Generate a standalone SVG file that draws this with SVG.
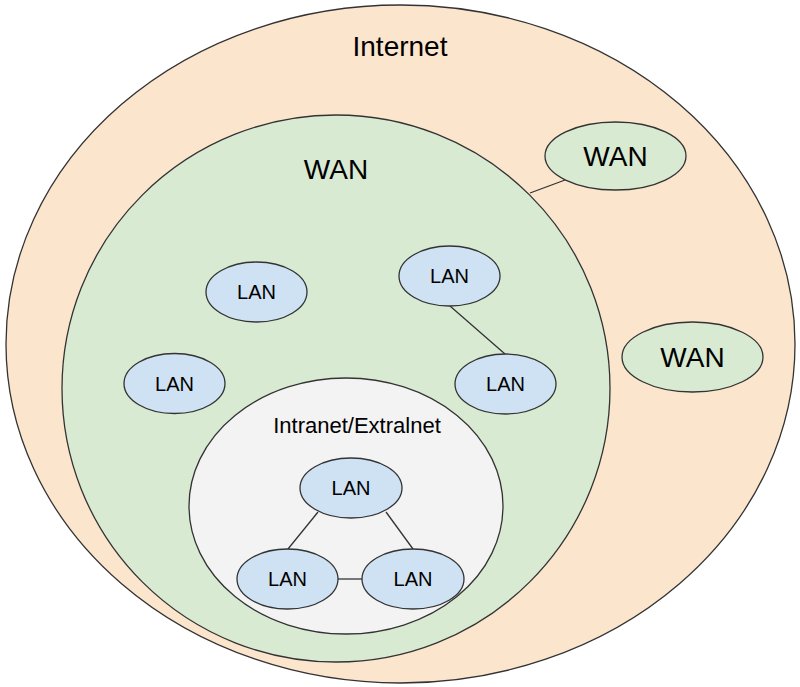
<svg xmlns="http://www.w3.org/2000/svg" width="800" height="687" viewBox="0 0 800 687">
<style>
.s{stroke:#333;stroke-width:1.3}
.inet{fill:#fce5cd}
.wan{fill:#d9ead3}
.lan{fill:#cfe2f3}
.intra{fill:#f3f3f3}
text{font-family:"Liberation Sans",Arial,sans-serif;fill:#000;text-anchor:middle}
.big{font-size:28px}
.lt{font-size:20px}
.c{stroke:#333;stroke-width:1.3;fill:none}
</style>
<rect width="800" height="687" fill="#fff"/>
<g id="internet">
<ellipse class="s inet" cx="400.5" cy="344" rx="394.5" ry="339"/>
<text class="big" x="400" y="56">Internet</text>
</g>
<g id="wan-main">
<ellipse class="s wan" cx="336" cy="388.5" rx="274" ry="273.5"/>
<text class="big" x="336" y="179">WAN</text>
</g>
<g id="wan-top">
<ellipse class="s wan" cx="615.5" cy="156" rx="70.5" ry="34"/>
<text class="big" x="615.5" y="166">WAN</text>
</g>
<g id="wan-right">
<ellipse class="s wan" cx="692.5" cy="357" rx="70.5" ry="35"/>
<text class="big" x="692.5" y="367">WAN</text>
</g>
<g id="intranet">
<ellipse class="s intra" cx="346" cy="506" rx="157" ry="128"/>
<text x="357" y="433" style="font-size:22px">Intranet/Extralnet</text>
</g>
<g id="connectors">
<line class="c" x1="530" y1="193" x2="565" y2="180"/>
<line class="c" x1="450" y1="306" x2="505" y2="354"/>
<line class="c" x1="318" y1="512" x2="288" y2="549"/>
<line class="c" x1="386" y1="512" x2="413" y2="549"/>
<line class="c" x1="338" y1="579" x2="362" y2="579"/>
</g>
<g id="lan1"><ellipse class="s lan" cx="256.5" cy="292" rx="50.5" ry="30"/><text class="lt" x="256.5" y="299">LAN</text></g>
<g id="lan2"><ellipse class="s lan" cx="449.5" cy="276" rx="50.5" ry="30"/><text class="lt" x="449.5" y="283">LAN</text></g>
<g id="lan3"><ellipse class="s lan" cx="174.5" cy="383.5" rx="50.5" ry="30"/><text class="lt" x="174.5" y="390.5">LAN</text></g>
<g id="lan4"><ellipse class="s lan" cx="505.5" cy="384" rx="50.5" ry="30"/><text class="lt" x="505.5" y="391">LAN</text></g>
<g id="lan5"><ellipse class="s lan" cx="351" cy="488" rx="51" ry="30"/><text class="lt" x="351" y="495">LAN</text></g>
<g id="lan6"><ellipse class="s lan" cx="287.5" cy="579" rx="50.5" ry="30"/><text class="lt" x="287.5" y="586">LAN</text></g>
<g id="lan7"><ellipse class="s lan" cx="413" cy="579" rx="51" ry="30"/><text class="lt" x="413" y="586">LAN</text></g>
</svg>
